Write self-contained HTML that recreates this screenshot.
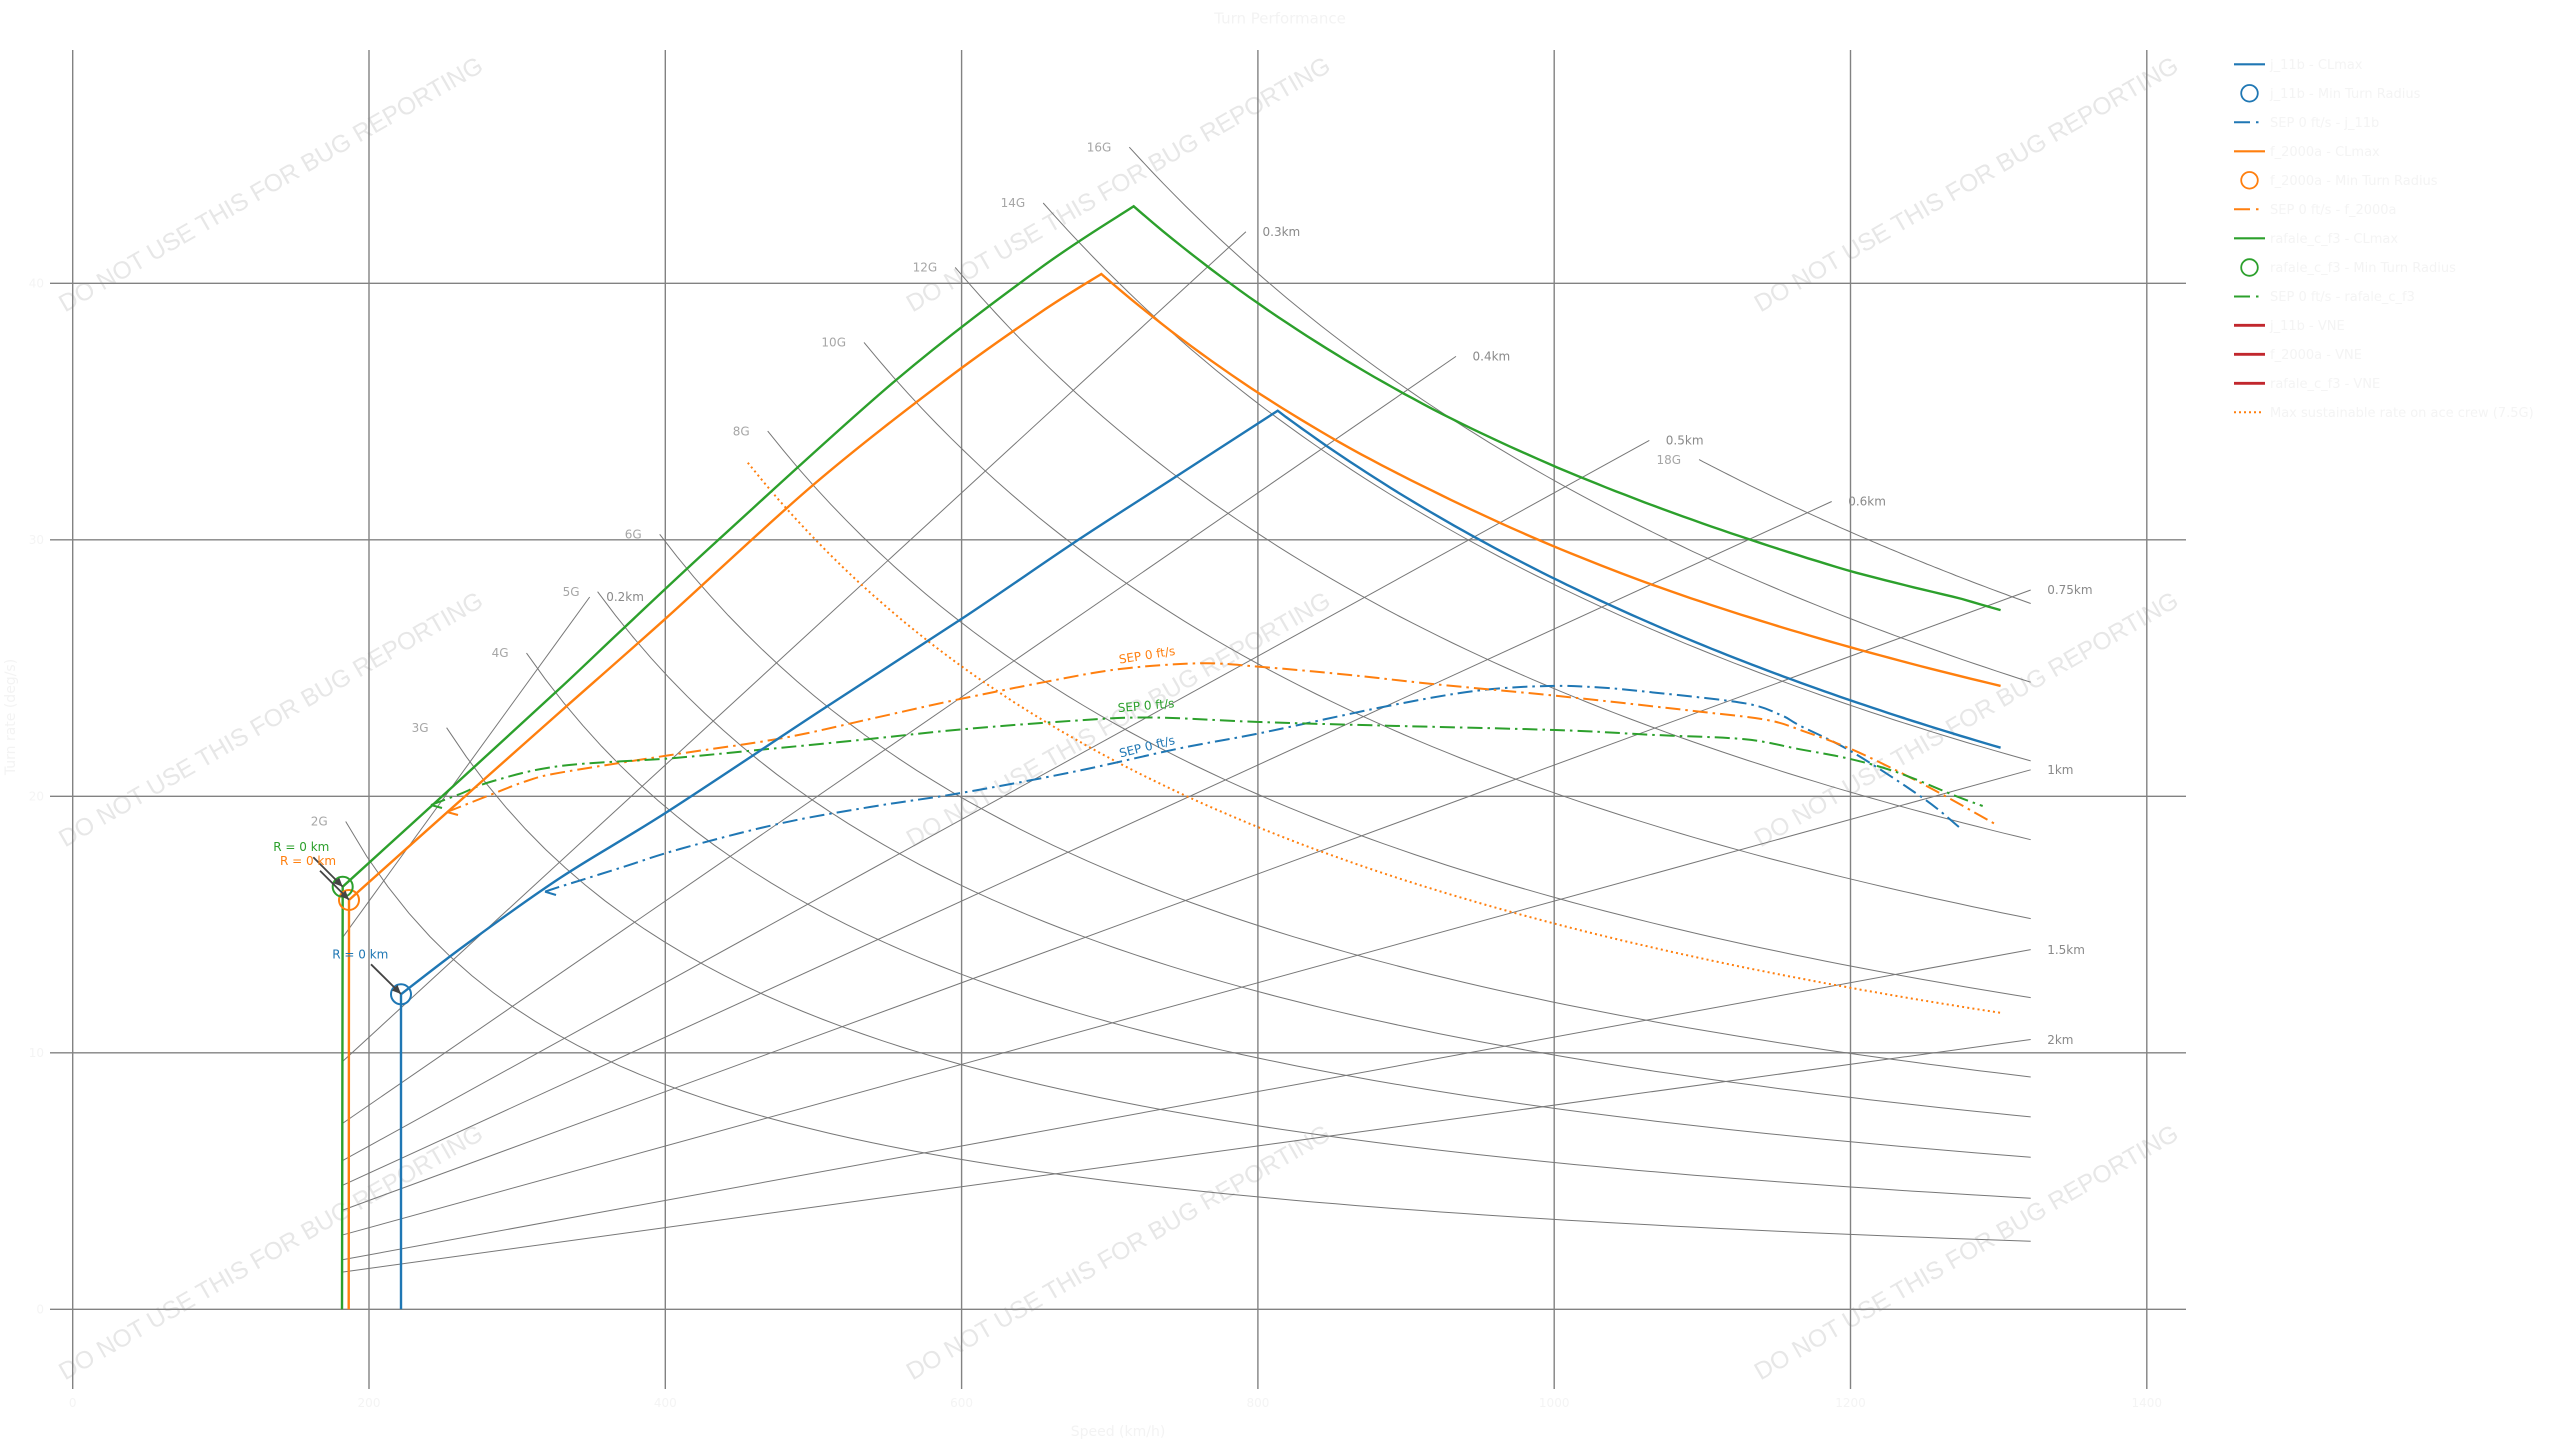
<!DOCTYPE html>
<html>
<head>
<meta charset="utf-8">
<style>
  html,body{margin:0;padding:0;background:#fff;}
  svg{display:block;}
  .t{font-family:"DejaVu Sans","Liberation Sans",sans-serif;}
</style>
</head>
<body>
<svg id="chart" width="2560" height="1440" viewBox="0 0 2560 1440" xmlns="http://www.w3.org/2000/svg">
  <defs>
    <marker id="ah" viewBox="0 0 10 10" refX="10" refY="5" markerWidth="9" markerHeight="9" markerUnits="userSpaceOnUse" orient="auto">
      <path d="M0,0.5 L10,5 L0,9.5 z" fill="#444"/>
    </marker>
  </defs>
  <rect x="0" y="0" width="2560" height="1440" fill="#ffffff"/>

  <!-- watermarks -->
  <g font-family="'Liberation Sans',Arial,sans-serif" font-size="24.5" fill="#e7e7e7" text-anchor="middle">
    <text transform="translate(270.6,184) rotate(-30)" dy="0.35em">DO NOT USE THIS FOR BUG REPORTING</text>
    <text transform="translate(1118,184) rotate(-30)" dy="0.35em">DO NOT USE THIS FOR BUG REPORTING</text>
    <text transform="translate(1966,184) rotate(-30)" dy="0.35em">DO NOT USE THIS FOR BUG REPORTING</text>
    <text transform="translate(270.6,719) rotate(-30)" dy="0.35em">DO NOT USE THIS FOR BUG REPORTING</text>
    <text transform="translate(1118,719) rotate(-30)" dy="0.35em">DO NOT USE THIS FOR BUG REPORTING</text>
    <text transform="translate(1966,719) rotate(-30)" dy="0.35em">DO NOT USE THIS FOR BUG REPORTING</text>
    <text transform="translate(270.6,1252) rotate(-30)" dy="0.35em">DO NOT USE THIS FOR BUG REPORTING</text>
    <text transform="translate(1118,1252) rotate(-30)" dy="0.35em">DO NOT USE THIS FOR BUG REPORTING</text>
    <text transform="translate(1966,1252) rotate(-30)" dy="0.35em">DO NOT USE THIS FOR BUG REPORTING</text>
  </g>

  <!-- grid -->
  <g stroke="#828282" stroke-width="1.4" fill="none">
    <line x1="72.7" y1="50" x2="72.7" y2="1389"/>
    <line x1="369.0" y1="50" x2="369.0" y2="1389"/>
    <line x1="665.3" y1="50" x2="665.3" y2="1389"/>
    <line x1="961.6" y1="50" x2="961.6" y2="1389"/>
    <line x1="1257.9" y1="50" x2="1257.9" y2="1389"/>
    <line x1="1554.2" y1="50" x2="1554.2" y2="1389"/>
    <line x1="1850.5" y1="50" x2="1850.5" y2="1389"/>
    <line x1="2146.8" y1="50" x2="2146.8" y2="1389"/>
    <line x1="50" y1="1309.3" x2="2186" y2="1309.3"/>
    <line x1="50" y1="1052.8" x2="2186" y2="1052.8"/>
    <line x1="50" y1="796.3" x2="2186" y2="796.3"/>
    <line x1="50" y1="539.8" x2="2186" y2="539.8"/>
    <line x1="50" y1="283.3" x2="2186" y2="283.3"/>
  </g>

  <!-- G and radius reference lines (paths generated) -->
  <g id="glines" stroke="#777" stroke-width="1" fill="none"></g>

  <!-- G labels -->
  <g class="t" font-size="12" fill="#a6a6a6" text-anchor="end">
    <text x="327.7" y="821.5" dy="0.35em">2G</text>
    <text x="428.6" y="727.7" dy="0.35em">3G</text>
    <text x="508.5" y="653.0" dy="0.35em">4G</text>
    <text x="579.6" y="591.7" dy="0.35em">5G</text>
    <text x="641.7" y="534.3" dy="0.35em">6G</text>
    <text x="749.7" y="431.2" dy="0.35em">8G</text>
    <text x="846.0" y="342.4" dy="0.35em">10G</text>
    <text x="937.2" y="267.4" dy="0.35em">12G</text>
    <text x="1025.2" y="203.0" dy="0.35em">14G</text>
    <text x="1111.3" y="147.1" dy="0.35em">16G</text>
    <text x="1681.1" y="459.6" dy="0.35em">18G</text>
  </g>
  <!-- radius labels -->
  <g class="t" font-size="12" fill="#8a8a8a" text-anchor="start">
    <text x="606.2" y="597.0" dy="0.35em">0.2km</text>
    <text x="1262.5" y="231.7" dy="0.35em">0.3km</text>
    <text x="1472.5" y="356.4" dy="0.35em">0.4km</text>
    <text x="1665.8" y="440.4" dy="0.35em">0.5km</text>
    <text x="1848.2" y="501.5" dy="0.35em">0.6km</text>
    <text x="2047.2" y="590.0" dy="0.35em">0.75km</text>
    <text x="2047.2" y="769.8" dy="0.35em">1km</text>
    <text x="2047.2" y="949.6" dy="0.35em">1.5km</text>
    <text x="2047.2" y="1039.6" dy="0.35em">2km</text>
  </g>

  <!-- 7.5G dotted -->
  <path id="dotted" d="" stroke="#ff7f0e" stroke-width="2" fill="none" stroke-dasharray="2 3.2"/>

  <!-- SEP curves -->
  <g fill="none" stroke-width="2" stroke-dasharray="15 5 2.5 5">
    <path id="sepB" d="" stroke="#1f77b4"/>
    <path id="sepO" d="" stroke="#ff7f0e"/>
    <path id="sepG" d="" stroke="#2ca02c"/>
  </g>
  <g fill="none" stroke-width="2">
    <path d="M545,891.7 L556,895" stroke="#1f77b4"/>
    <path d="M447,812 L458,815" stroke="#ff7f0e"/>
    <path d="M431,805 L442,808" stroke="#2ca02c"/>
  </g>

  <!-- CLmax curves -->
  <g fill="none" stroke-width="2.4" stroke-linejoin="miter">
    <path id="clB" d="" stroke="#1f77b4"/>
    <path id="clO" d="" stroke="#ff7f0e"/>
    <path id="clG" d="" stroke="#2ca02c"/>
  </g>

  <!-- min turn radius circles -->
  <g fill="none" stroke-width="2">
    <circle cx="401" cy="994.3" r="10" stroke="#1f77b4"/>
    <circle cx="349" cy="900" r="10" stroke="#ff7f0e"/>
    <circle cx="342.7" cy="886.7" r="10" stroke="#2ca02c"/>
  </g>

  <!-- annotations -->
  <g stroke="#444" stroke-width="1.8" fill="none">
    <line x1="313.3" y1="857.3" x2="342.7" y2="886.7" marker-end="url(#ah)"/>
    <line x1="320" y1="870.7" x2="349" y2="899.7" marker-end="url(#ah)"/>
    <line x1="371" y1="964.3" x2="401" y2="994" marker-end="url(#ah)"/>
  </g>
  <g class="t" font-size="12" text-anchor="middle">
    <text x="301.3" y="846.7" dy="0.35em" fill="#2ca02c">R = 0 km</text>
    <text x="308" y="860.7" dy="0.35em" fill="#ff7f0e">R = 0 km</text>
    <text x="360.3" y="954.3" dy="0.35em" fill="#1f77b4">R = 0 km</text>
  </g>

  <!-- SEP labels -->
  <g class="t" font-size="12" text-anchor="middle">
    <text transform="translate(1147,655) rotate(-9)" dy="0.35em" fill="#ff7f0e">SEP 0 ft/s</text>
    <text transform="translate(1146,705.5) rotate(-5)" dy="0.35em" fill="#2ca02c">SEP 0 ft/s</text>
    <text transform="translate(1147,746.5) rotate(-14)" dy="0.35em" fill="#1f77b4">SEP 0 ft/s</text>
  </g>

  <!-- tick labels -->
  <g class="t" font-size="12" fill="#f4f4f4" text-anchor="middle">
    <text x="72.7" y="1403" dy="0.35em">0</text>
    <text x="369.0" y="1403" dy="0.35em">200</text>
    <text x="665.3" y="1403" dy="0.35em">400</text>
    <text x="961.6" y="1403" dy="0.35em">600</text>
    <text x="1257.9" y="1403" dy="0.35em">800</text>
    <text x="1554.2" y="1403" dy="0.35em">1000</text>
    <text x="1850.5" y="1403" dy="0.35em">1200</text>
    <text x="2146.8" y="1403" dy="0.35em">1400</text>
  </g>
  <g class="t" font-size="12" fill="#f4f4f4" text-anchor="end">
    <text x="44" y="1309.3" dy="0.35em">0</text>
    <text x="44" y="1052.8" dy="0.35em">10</text>
    <text x="44" y="796.3" dy="0.35em">20</text>
    <text x="44" y="539.8" dy="0.35em">30</text>
    <text x="44" y="283.3" dy="0.35em">40</text>
  </g>

  <!-- titles -->
  <text class="t" x="1280" y="18" dy="0.35em" font-size="15" fill="#f3f3f3" text-anchor="middle">Turn Performance</text>
  <text class="t" x="1118" y="1431" dy="0.35em" font-size="14" fill="#f3f3f3" text-anchor="middle">Speed (km/h)</text>
  <text class="t" transform="translate(10,717) rotate(-90)" dy="0.35em" font-size="14" fill="#f3f3f3" text-anchor="middle">Turn rate (deg/s)</text>

  <!-- legend -->
  <g fill="none">
    <line x1="2234" y1="64.3" x2="2265" y2="64.3" stroke="#1f77b4" stroke-width="2.2"/>
    <circle cx="2249.5" cy="93.3" r="8.3" stroke="#1f77b4" stroke-width="1.8"/>
    <line x1="2234" y1="122.3" x2="2265" y2="122.3" stroke="#1f77b4" stroke-width="2" stroke-dasharray="16 6 2.5 7"/>
    <line x1="2234" y1="151.3" x2="2265" y2="151.3" stroke="#ff7f0e" stroke-width="2.2"/>
    <circle cx="2249.5" cy="180.3" r="8.3" stroke="#ff7f0e" stroke-width="1.8"/>
    <line x1="2234" y1="209.3" x2="2265" y2="209.3" stroke="#ff7f0e" stroke-width="2" stroke-dasharray="16 6 2.5 7"/>
    <line x1="2234" y1="238.3" x2="2265" y2="238.3" stroke="#2ca02c" stroke-width="2.2"/>
    <circle cx="2249.5" cy="267.5" r="8.3" stroke="#2ca02c" stroke-width="1.8"/>
    <line x1="2234" y1="296.5" x2="2265" y2="296.5" stroke="#2ca02c" stroke-width="2" stroke-dasharray="16 6 2.5 7"/>
    <line x1="2234" y1="325.3" x2="2265" y2="325.3" stroke="#c1272d" stroke-width="2.8"/>
    <line x1="2234" y1="354.3" x2="2265" y2="354.3" stroke="#c1272d" stroke-width="2.8"/>
    <line x1="2234" y1="383.3" x2="2265" y2="383.3" stroke="#c1272d" stroke-width="2.8"/>
    <line x1="2234" y1="412.3" x2="2263" y2="412.3" stroke="#ff7f0e" stroke-width="2" stroke-dasharray="2 3"/>
  </g>
  <g class="t" font-size="13" fill="#f4f4f4">
    <text x="2270" y="64.3" dy="0.35em">j_11b - CLmax</text>
    <text x="2270" y="93.3" dy="0.35em">j_11b - Min Turn Radius</text>
    <text x="2270" y="122.3" dy="0.35em">SEP 0 ft/s - j_11b</text>
    <text x="2270" y="151.3" dy="0.35em">f_2000a - CLmax</text>
    <text x="2270" y="180.3" dy="0.35em">f_2000a - Min Turn Radius</text>
    <text x="2270" y="209.3" dy="0.35em">SEP 0 ft/s - f_2000a</text>
    <text x="2270" y="238.3" dy="0.35em">rafale_c_f3 - CLmax</text>
    <text x="2270" y="267.5" dy="0.35em">rafale_c_f3 - Min Turn Radius</text>
    <text x="2270" y="296.5" dy="0.35em">SEP 0 ft/s - rafale_c_f3</text>
    <text x="2270" y="325.3" dy="0.35em">j_11b - VNE</text>
    <text x="2270" y="354.3" dy="0.35em">f_2000a - VNE</text>
    <text x="2270" y="383.3" dy="0.35em">rafale_c_f3 - VNE</text>
    <text x="2270" y="412.3" dy="0.35em">Max sustainable rate on ace crew (7.5G)</text>
  </g>
</svg>

<script>
(function(){
  var NS='http://www.w3.org/2000/svg';
  function X(v){return 72.7+1.4815*v;}
  function Yg(s,v){return 1309.3-51900*s/v;}
  function Yr(r,v){return 1309.3-408.22*v/r;}
  function f(n){return n.toFixed(1);}
  function gcurve(s,v0,v1,N){N=N||80;var d='';for(var i=0;i<=N;i++){var v=v0+(v1-v0)*i/N;d+=(i?'L':'M')+f(X(v))+','+f(Yg(s,v));}return d;}
  function add(parent,d){var p=document.createElementNS(NS,'path');p.setAttribute('d',d);parent.appendChild(p);}
  var VE=1321.6;
  var gl=document.getElementById('glines');
  var G=[[2,184.3],[3,252.4],[4,306.3],[5,354.3],[6,396.2],[8,469.1],[10,534.1],[12,595.7],[14,655.1],[16,713.2],[18,1097.8]];
  G.forEach(function(g){add(gl,gcurve(Math.sqrt(g[0]*g[0]-1),g[1],VE));});
  var R=[[200,349],[300,791.9],[400,933.7],[500,1064.2],[600,1187.3],[750,VE],[1000,VE],[1500,VE],[2000,VE]];
  R.forEach(function(r){var v0=182.5;add(gl,'M'+f(X(v0))+','+f(Yr(r[0],v0))+'L'+f(X(r[1]))+','+f(Yr(r[0],r[1])));});

  document.getElementById('dotted').setAttribute('d',gcurve(Math.sqrt(7.5*7.5-1),455.7,1301.3));

  function cr(a,move){
    var d=(move?'M':'L')+a[0][0]+','+a[0][1];
    for(var i=0;i<a.length-1;i++){
      var p0=a[i-1]||a[i],p1=a[i],p2=a[i+1],p3=a[i+2]||p2;
      var c1x=p1[0]+(p2[0]-p0[0])/6,c1y=p1[1]+(p2[1]-p0[1])/6;
      var c2x=p2[0]-(p3[0]-p1[0])/6,c2y=p2[1]-(p3[1]-p1[1])/6;
      d+='C'+f(c1x)+','+f(c1y)+' '+f(c2x)+','+f(c2y)+' '+p2[0]+','+p2[1];
    }
    return d;
  }
  function interp(t,v){
    if(v<=t[0][0])return t[0][1];
    for(var i=0;i<t.length-1;i++){if(v<=t[i+1][0]){var k=(v-t[i][0])/(t[i+1][0]-t[i][0]);return t[i][1]+k*(t[i+1][1]-t[i][1]);}}
    return t[t.length-1][1];
  }
  function desc(tbl,v0,v1){
    var d='';
    for(var i=1;i<=90;i++){var v=v0+(v1-v0)*i/90;var s=(typeof tbl==='number')?tbl:interp(tbl,v);d+='L'+f(X(v))+','+f(Yg(s,v));}
    return d;
  }
  var VC=1301.3;
  var riseB=[[401,994.3],[466.7,944],[560,878],[667,812],[820,711],[962.5,618.3],[1078,540],[1180,474],[1277.7,410.7]];
  document.getElementById('clB').setAttribute('d','M401,1309.3L401,994.3'+cr(riseB,false)+desc(14.08,813.4,VC));
  var riseO=[[349,900],[480,783],[560,712],[664.8,619.3],[813.1,485],[945.5,380],[1040,312.7],[1101.3,274]];
  var tO=[[694.3,13.85],[800,14.13],[864,14.31],[923,14.49],[1001,14.70],[1065,14.88],[1116,15.04],[1301.3,15.63]];
  document.getElementById('clO').setAttribute('d','M348.7,1309.3L349,900'+cr(riseO,false)+desc(tO,694.3,VC));
  var riseG=[[342.7,886.7],[460,780],[560,688.3],[625.2,626.7],[718.2,540],[896.1,380],[1040,268.3],[1133.7,206.3]];
  var tG=[[716.2,15.22],[800.5,15.51],[877.9,15.78],[923,15.94],[1001,16.25],[1132,16.79],[1201,17.07],[1274,17.45],[1301.3,17.53]];
  document.getElementById('clG').setAttribute('d','M342,1309.3L342.7,886.7'+cr(riseG,false)+desc(tG,716.2,VC));

  var sB=[[545,891.7],[560,886.7],[620,868],[680,849],[781,823.3],[870,807],[962.5,792.7],[1074,771.7],[1180,748.3],[1259.3,733.3],[1387.9,706],[1477.1,690.7],[1548.6,686],[1600,687.5],[1655.7,692.7],[1745,703.3],[1780.7,715],[1800,725.7],[1851.7,751.7],[1923.3,798.3],[1959.3,827.3]];
  var sO=[[447,812],[490,795],[526.7,781],[560,772.7],[670.7,755],[781.4,738.3],[870,719],[955.4,700],[1046.4,681.7],[1120,669],[1200.4,663.3],[1259.3,666.7],[1350,675],[1432.5,684],[1555.3,695.7],[1700.4,711.7],[1767.3,720],[1805,731.7],[1851.7,749.3],[1900,772.3],[1943.3,795],[1995,824]];
  var sG=[[431,805],[460,794],[493.3,781],[560,766],[670.7,758.3],[757.7,750],[860,740],[962.5,729.3],[1074,720.7],[1150,717.5],[1259.3,722],[1387.9,725.7],[1555.3,730],[1655.7,735],[1745,739.3],[1800,749.3],[1851.7,759.3],[1900,773.3],[1953.3,795],[1982.7,806]];
  document.getElementById('sepB').setAttribute('d',cr(sB,true));
  document.getElementById('sepO').setAttribute('d',cr(sO,true));
  document.getElementById('sepG').setAttribute('d',cr(sG,true));
})();
</script>
</body>
</html>
